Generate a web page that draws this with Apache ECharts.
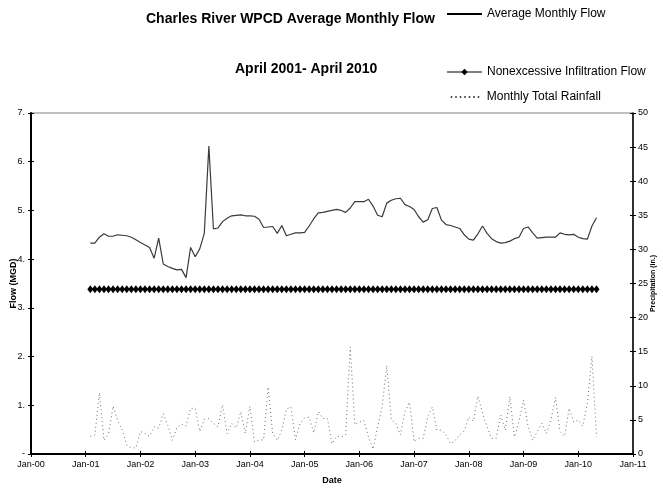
<!DOCTYPE html>
<html>
<head>
<meta charset="utf-8">
<script src="https://cdn.jsdelivr.net/npm/echarts@6/dist/echarts.min.js"></script>
<style>html,body{margin:0;padding:0;background:#fff;}#c{width:663px;height:489px;}</style>
</head>
<body>
<div id="c"></div>
<script>
// First data month: Feb 2001, monthly to May 2010
var startYear = 2001, startMonth = 2;
var xTickYears = [2000, 2011];
var flowValues = [
4.33,4.33,4.45,4.52,4.47,4.47,4.50,4.49,4.48,4.45,4.40,
4.34,4.29,4.24,4.02,4.43,3.90,3.85,3.81,3.78,3.79,3.62,4.24,
4.05,4.21,4.53,6.32,4.62,4.64,4.77,4.84,4.89,4.90,4.91,4.89,
4.89,4.88,4.82,4.65,4.66,4.67,4.53,4.69,4.48,4.51,4.54,4.54,
4.55,4.68,4.83,4.95,4.96,4.98,5.00,5.02,5.00,4.96,5.05,5.18,
5.18,5.18,5.23,5.09,4.90,4.87,5.15,5.21,5.24,5.25,5.12,5.08,
5.02,4.87,4.76,4.81,5.04,5.06,4.80,4.71,4.69,4.66,4.63,4.50,
4.41,4.39,4.52,4.68,4.53,4.42,4.36,4.33,4.34,4.37,4.42,4.45,
4.63,4.66,4.54,4.43,4.44,4.45,4.45,4.45,4.54,4.51,4.50,4.51,
4.45,4.42,4.41,4.68,4.85
];
var infiltrationValues = [
3.38,3.38,3.38,3.38,3.38,3.38,3.38,3.38,3.38,3.38,3.38,
3.38,3.38,3.38,3.38,3.38,3.38,3.38,3.38,3.38,3.38,3.38,3.38,
3.38,3.38,3.38,3.38,3.38,3.38,3.38,3.38,3.38,3.38,3.38,3.38,
3.38,3.38,3.38,3.38,3.38,3.38,3.38,3.38,3.38,3.38,3.38,3.38,
3.38,3.38,3.38,3.38,3.38,3.38,3.38,3.38,3.38,3.38,3.38,3.38,
3.38,3.38,3.38,3.38,3.38,3.38,3.38,3.38,3.38,3.38,3.38,3.38,
3.38,3.38,3.38,3.38,3.38,3.38,3.38,3.38,3.38,3.38,3.38,3.38,
3.38,3.38,3.38,3.38,3.38,3.38,3.38,3.38,3.38,3.38,3.38,3.38,
3.38,3.38,3.38,3.38,3.38,3.38,3.38,3.38,3.38,3.38,3.38,3.38,
3.38,3.38,3.38,3.38,3.38
];
var rainValues = [
2.6,2.8,9.0,2.0,2.9,7.0,4.9,3.5,1.3,0.9,0.9,
3.3,3.0,2.6,4.0,3.8,5.9,4.2,2.0,3.9,4.4,4.1,6.7,
6.7,3.3,5.1,5.2,4.5,4.0,7.2,3.0,4.5,3.8,6.2,3.0,
7.0,1.8,2.0,2.1,9.8,3.0,2.0,3.5,6.6,6.9,2.1,4.5,
5.3,5.4,3.1,6.2,5.2,5.2,1.5,2.6,2.5,2.8,15.7,4.3,
4.7,4.9,2.5,0.7,4.0,7.0,13.0,5.0,4.5,2.8,6.2,7.6,
1.8,2.3,2.3,5.5,6.9,3.5,3.5,2.8,1.5,2.0,2.8,3.4,
5.4,4.8,8.5,6.0,4.0,2.3,2.3,5.7,3.5,8.4,2.5,4.8,
7.9,4.0,2.0,3.3,4.5,3.0,5.0,8.3,3.3,2.6,6.7,4.7,
5.0,4.1,7.5,14.3,2.5
];
var seriesNames = ['Average Monthly Flow', 'Nonexcessive Infiltration Flow', 'Monthly Total Rainfall'];

function monthX(i) {
  var m = startMonth - 1 + i;
  return startYear + Math.floor(m / 12) + (m % 12) / 12;
}
function pairs(vals) { return vals.map(function (v, i) { return [monthX(i), v]; }); }

var FONT = 'Liberation Sans';
var chart = echarts.init(document.getElementById('c'));
var xBase = {
  type: 'value', min: xTickYears[0], max: xTickYears[1], interval: 1,
  splitLine: { show: false }
};
chart.setOption({
  animation: false,
  backgroundColor: '#fff',
  textStyle: { fontFamily: FONT },
  title: [
    { text: 'Charles River WPCD Average Monthly Flow', left: 146, top: 12, padding: 0,
      textStyle: { fontSize: 14, fontWeight: 'bold', color: '#000', fontFamily: FONT } },
    { text: 'April 2001- April 2010', left: 235, top: 62, padding: 0,
      textStyle: { fontSize: 14, fontWeight: 'bold', color: '#000', fontFamily: FONT } }
  ],
  legend: [
    { data: [seriesNames[0]], left: 446, top: 8, padding: 0, itemWidth: 35, itemHeight: 8,
      textStyle: { fontSize: 12, color: '#000', fontFamily: FONT },
      itemStyle: { opacity: 0 },
      lineStyle: { color: '#000', width: 2 } },
    { data: [seriesNames[1]], left: 446, top: 66, padding: 0, itemWidth: 35, itemHeight: 8,
      textStyle: { fontSize: 12, color: '#000', fontFamily: FONT } },
    { data: [seriesNames[2]], left: 450, top: 91, padding: 0, itemWidth: 31, itemHeight: 8,
      textStyle: { fontSize: 12, color: '#000', fontFamily: FONT },
      itemStyle: { opacity: 0 },
      lineStyle: { color: '#000', width: 1.5, type: [1.5, 3] } }
  ],
  grid: { left: 31, right: 30, top: 113, bottom: 35, show: true, borderColor: '#808080', borderWidth: 1,
          backgroundColor: 'transparent', containLabel: false, outerBoundsMode: 'none' },
  xAxis: [
    Object.assign({}, xBase, {
      position: 'bottom',
      axisLine: { show: true, lineStyle: { color: '#000', width: 2 } },
      axisTick: { show: true, length: 3, lineStyle: { color: '#000', width: 1 } },
      axisLabel: { fontSize: 9, color: '#000', margin: 6, fontFamily: FONT,
        formatter: function (v) { var y = v - 2000; return 'Jan-' + (y < 10 ? '0' : '') + y; } },
      name: 'Date', nameLocation: 'middle', nameGap: 22, nameMoveOverlap: false,
      nameTextStyle: { fontSize: 9, fontWeight: 'bold', color: '#000', fontFamily: FONT }
    }),
    Object.assign({}, xBase, {
      position: 'bottom', axisLine: { show: false },
      axisTick: { show: true, inside: true, length: 3, lineStyle: { color: '#000', width: 1 } },
      axisLabel: { show: false }
    })
  ],
  yAxis: [
    { type: 'value', min: 0, max: 7, interval: 1, position: 'left',
      splitLine: { show: false },
      axisLine: { show: true, lineStyle: { color: '#000', width: 2 } },
      axisTick: { show: true, length: 3, lineStyle: { color: '#000' } },
      axisLabel: { fontSize: 9, color: '#000', margin: 6, fontFamily: FONT,
        formatter: function (v) { return v === 0 ? '-' : v + '.'; } },
      name: 'Flow (MGD)', nameLocation: 'middle', nameGap: 13, nameMoveOverlap: false,
      nameTextStyle: { fontSize: 9, fontWeight: 'bold', color: '#000', fontFamily: FONT } },
    { type: 'value', min: 0, max: 50, interval: 5, position: 'right',
      splitLine: { show: false },
      axisLine: { show: true, lineStyle: { color: '#000', width: 1.5 } },
      axisTick: { show: true, length: 3, lineStyle: { color: '#000' } },
      axisLabel: { fontSize: 9, color: '#000', margin: 5, fontFamily: FONT },
      name: 'Precipitation (in.)', nameLocation: 'middle', nameGap: 17, nameRotate: 90, nameMoveOverlap: false,
      nameTextStyle: { fontSize: 7, fontWeight: 'bold', color: '#000', fontFamily: FONT } },
    { type: 'value', min: 0, max: 7, interval: 1, position: 'left',
      splitLine: { show: false }, axisLine: { show: false },
      axisTick: { show: true, inside: true, length: 3, lineStyle: { color: '#000' } },
      axisLabel: { show: false } },
    { type: 'value', min: 0, max: 50, interval: 5, position: 'right',
      splitLine: { show: false }, axisLine: { show: false },
      axisTick: { show: true, inside: true, length: 3, lineStyle: { color: '#000' } },
      axisLabel: { show: false } }
  ],
  series: [
    { name: seriesNames[2], type: 'line', xAxisIndex: 0, yAxisIndex: 1, data: pairs(rainValues),
      symbol: 'none', z: 1,
      lineStyle: { color: '#6e6e6e', width: 1, type: [1, 3] }, itemStyle: { color: '#6e6e6e' } },
    { name: seriesNames[1], type: 'line', xAxisIndex: 0, yAxisIndex: 0, data: pairs(infiltrationValues),
      symbol: 'diamond', symbolSize: [6, 8], z: 2,
      lineStyle: { color: '#808080', width: 1 }, itemStyle: { color: '#000', borderWidth: 0 } },
    { name: seriesNames[0], type: 'line', xAxisIndex: 0, yAxisIndex: 0, data: pairs(flowValues),
      symbol: 'none', z: 3,
      lineStyle: { color: '#3a3a3a', width: 1.2 }, itemStyle: { color: '#000' } }
  ]
});
</script>
</body>
</html>
